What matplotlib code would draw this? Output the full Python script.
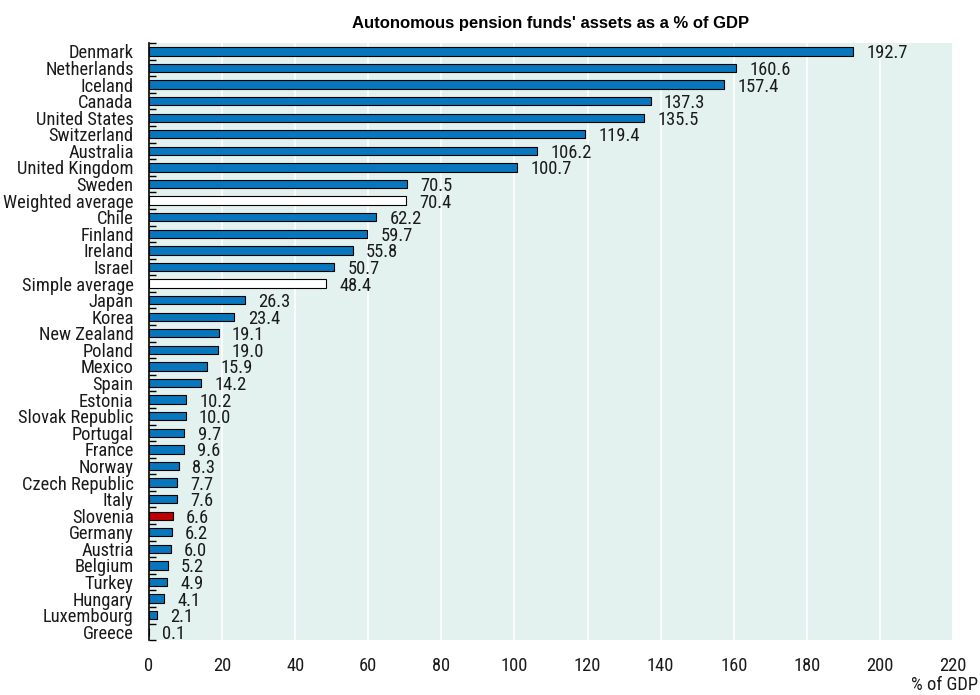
import matplotlib.pyplot as plt
import numpy as np
from matplotlib import font_manager

countries = [
    "Denmark", "Netherlands", "Iceland", "Canada", "United States", "Switzerland",
    "Australia", "United Kingdom", "Sweden", "Weighted average", "Chile", "Finland",
    "Ireland", "Israel", "Simple average", "Japan", "Korea", "New Zealand", "Poland",
    "Mexico", "Spain", "Estonia", "Slovak Republic", "Portugal", "France", "Norway",
    "Czech Republic", "Italy", "Slovenia", "Germany", "Austria", "Belgium", "Turkey",
    "Hungary", "Luxembourg", "Greece",
]
values = [
    192.7, 160.6, 157.4, 137.3, 135.5, 119.4, 106.2, 100.7, 70.5, 70.4, 62.2, 59.7,
    55.8, 50.7, 48.4, 26.3, 23.4, 19.1, 19.0, 15.9, 14.2, 10.2, 10.0, 9.7, 9.6, 8.3,
    7.7, 7.6, 6.6, 6.2, 6.0, 5.2, 4.9, 4.1, 2.1, 0.1,
]
averages = ["Weighted average", "Simple average"]
highlight = "Slovenia"
xticks = list(range(0, 221, 20))

# narrow face for labels, plain sans for the title
names = {f.name for f in font_manager.fontManager.ttflist}
narrow = [f for f in ["Roboto Condensed", "Archivo Narrow", "PT Sans Narrow"] if f in names]
plt.rcParams["font.family"] = narrow[:1] + ["Liberation Sans", "DejaVu Sans"]

BLUE = "#0776bd"
RED = "#c00000"
BG = "#e3f2ef"
TXT = "#1a1a1a"
FS = 13.3

colors = []
for c in countries:
    if c in averages:
        colors.append("white")
    elif c == highlight:
        colors.append(RED)
    else:
        colors.append(BLUE)

fig = plt.figure(figsize=(9.8, 6.95), dpi=100)
ax = fig.add_axes([0.152, 0.079, 0.8205, 0.859])
ax.set_facecolor(BG)

y = np.arange(len(countries))
ax.barh(y, values, height=0.5, color=colors, edgecolor="black", linewidth=0.8, zorder=3)

for yi, v in zip(y, values):
    ax.text(v + 3.6, yi + 0.12, f"{v:.1f}", va="center", ha="left", fontsize=FS, color=TXT)

ax.set_ylim(len(countries) - 0.5, -0.5)
ax.set_xlim(0, 220)
ax.set_xticks(xticks)
ax.set_xticklabels([str(t) for t in xticks], fontsize=FS, color=TXT)
ax.tick_params(axis="x", length=0, pad=12)
ax.grid(axis="x", color="white", linewidth=1.2, zorder=1)

ax.set_yticks(y)
ax.set_yticklabels(countries, fontsize=FS, color=TXT)
ax.tick_params(axis="y", which="major", length=0, pad=11)
ax.set_yticks(np.arange(-0.5, len(countries), 1.0), minor=True)
ax.tick_params(axis="y", which="minor", direction="in", length=5, width=1, color="black")

for side in ["top", "right", "bottom"]:
    ax.spines[side].set_visible(False)
ax.spines["left"].set_linewidth(1.2)

ax.set_title("Autonomous pension funds' assets as a % of GDP", fontsize=12,
             fontweight="bold", family=["Liberation Sans", "DejaVu Sans"], pad=11)
fig.text(0.998, 1 - 676 / 695, "% of GDP", ha="right", va="top", fontsize=FS, color=TXT)

fig.savefig("out.png", dpi=100)
